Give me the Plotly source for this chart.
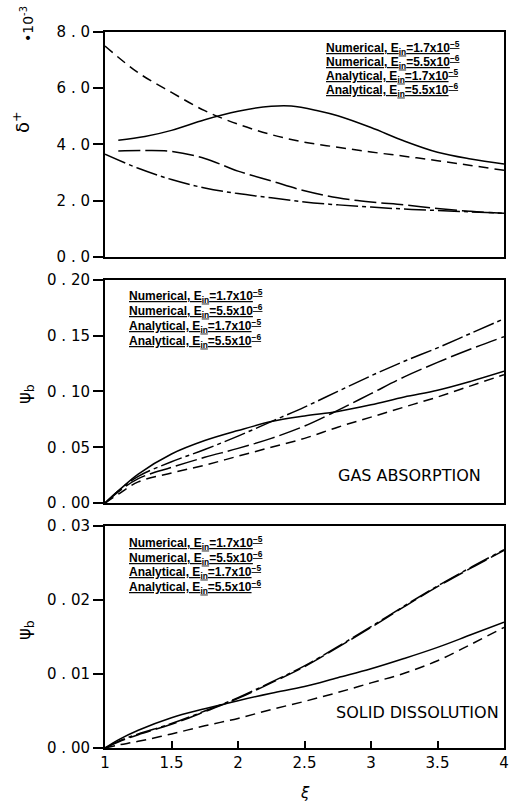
import plotly.graph_objects as go

# ---------------- data ----------------
# Panel 1: delta+ (x 10^-3)
p1_x_num17 = [1.1, 1.3, 1.5, 1.75, 2.0, 2.25, 2.4, 2.6, 2.75, 3.0, 3.25, 3.5, 3.75, 4.0]
p1_num17 = [4.15, 4.28, 4.5, 4.88, 5.18, 5.36, 5.37, 5.2, 5.02, 4.6, 4.12, 3.72, 3.48, 3.3]
p1_x_num55 = [1.0, 1.25, 1.5, 1.75, 2.0, 2.25, 2.5, 2.75, 3.0, 3.25, 3.5, 3.75, 4.0]
p1_num55 = [7.5, 6.55, 5.85, 5.2, 4.72, 4.35, 4.08, 3.9, 3.73, 3.58, 3.42, 3.25, 3.08]
p1_x_an17 = [1.1, 1.3, 1.5, 1.75, 2.0, 2.25, 2.5, 2.75, 3.0, 3.25, 3.5, 3.75, 4.0]
p1_an17 = [3.77, 3.78, 3.75, 3.5, 3.05, 2.7, 2.35, 2.1, 1.95, 1.85, 1.72, 1.62, 1.55]
p1_x_an55 = [1.0, 1.25, 1.5, 1.75, 2.0, 2.25, 2.5, 2.75, 3.0, 3.25, 3.5, 3.75, 4.0]
p1_an55 = [3.65, 3.15, 2.75, 2.45, 2.25, 2.1, 1.95, 1.85, 1.77, 1.7, 1.65, 1.6, 1.55]

# Panel 2: psi_b, gas absorption
p2_x = [1.0, 1.1, 1.25, 1.5, 1.75, 2.0, 2.25, 2.5, 2.75, 3.0, 3.25, 3.5, 3.75, 4.0]
p2_num17 = [0.0, 0.011, 0.026, 0.044, 0.056, 0.065, 0.073, 0.078, 0.082, 0.088, 0.095, 0.101, 0.109, 0.118]
p2_num55 = [0.0, 0.008, 0.019, 0.027, 0.034, 0.042, 0.05, 0.058, 0.068, 0.077, 0.086, 0.095, 0.105, 0.115]
p2_an17 = [0.0, 0.01, 0.022, 0.032, 0.041, 0.049, 0.058, 0.069, 0.083, 0.098, 0.113, 0.126, 0.138, 0.149]
p2_an55 = [0.0, 0.011, 0.024, 0.037, 0.048, 0.06, 0.073, 0.086, 0.1, 0.114, 0.127, 0.139, 0.152, 0.165]

# Panel 3: psi_b, solid dissolution
p3_x = [1.0, 1.1, 1.25, 1.5, 1.75, 2.0, 2.25, 2.5, 2.75, 3.0, 3.25, 3.5, 3.75, 4.0]
p3_num17 = [0.0, 0.0011, 0.0024, 0.0041, 0.0053, 0.0064, 0.0074, 0.0083, 0.0095, 0.0107, 0.0121, 0.0136, 0.0153, 0.017]
p3_num55 = [0.0, 0.0004, 0.0009, 0.0019, 0.003, 0.004, 0.0052, 0.0063, 0.0075, 0.0088, 0.0101, 0.0118, 0.014, 0.0163]
p3_an17 = [0.0, 0.0008, 0.0018, 0.0032, 0.0049, 0.0067, 0.0088, 0.011, 0.0136, 0.0163, 0.0191, 0.0218, 0.0243, 0.0267]
p3_an55 = [0.0, 0.0009, 0.0019, 0.0033, 0.0050, 0.0068, 0.0089, 0.0111, 0.0137, 0.0164, 0.0192, 0.0219, 0.0244, 0.0268]

series_names = ["Numerical, E<sub>in</sub>=1.7x10<sup>−5</sup>",
                "Numerical, E<sub>in</sub>=5.5x10<sup>−6</sup>",
                "Analytical, E<sub>in</sub>=1.7x10<sup>−5</sup>",
                "Analytical, E<sub>in</sub>=5.5x10<sup>−6</sup>"]

x_ticks = [1, 1.5, 2, 2.5, 3, 3.5, 4]
x_ticktext = ["1", "1.5", "2", "2.5", "3", "3.5", "4"]
p1_ticks = [0, 2, 4, 6, 8]
p1_ticktext = ["0 . 0", "2 . 0", "4 . 0", "6 . 0", "8 . 0"]
p2_ticks = [0, 0.05, 0.10, 0.15, 0.20]
p2_ticktext = ["0 . 00", "0 . 05", "0 . 10", "0 . 15", "0 . 20"]
p3_ticks = [0, 0.01, 0.02, 0.03]
p3_ticktext = ["0 . 00", "0 . 01", "0 . 02", "0 . 03"]

# ---------------- figure ----------------
dashes = ["solid", "10px,6px", "22px,5px", "22px,4px,4px,4px"]
fig = go.Figure()

panels = [
    ("x", "y", [(p1_x_num17, p1_num17), (p1_x_num55, p1_num55), (p1_x_an17, p1_an17), (p1_x_an55, p1_an55)]),
    ("x2", "y2", [(p2_x, p2_num17), (p2_x, p2_num55), (p2_x, p2_an17), (p2_x, p2_an55)]),
    ("x3", "y3", [(p3_x, p3_num17), (p3_x, p3_num55), (p3_x, p3_an17), (p3_x, p3_an55)]),
]
for xa, ya, series in panels:
    for i, (xs, ys) in enumerate(series):
        fig.add_trace(go.Scatter(x=xs, y=ys, xaxis=xa, yaxis=ya, mode="lines",
                                 line=dict(color="black", width=1.5, dash=dashes[i], shape="spline"),
                                 name=series_names[i], showlegend=False))

tickfont = dict(family="DejaVu Sans", size=15, color="black")
common_x = dict(range=[1, 4], showline=True, mirror=True, linecolor="black", linewidth=2,
                showgrid=False, zeroline=False, tickvals=x_ticks, ticktext=x_ticktext)
common_y = dict(showline=True, mirror=True, linecolor="black", linewidth=2, showgrid=False,
                zeroline=False, ticks="outside", ticklen=10, tickwidth=1.5, tickcolor="black",
                tickfont=tickfont)

fig.update_layout(
    width=512, height=808,
    margin=dict(l=105, r=3, t=32, b=60),
    paper_bgcolor="white", plot_bgcolor="white",
    showlegend=False,
    xaxis=dict(**common_x, anchor="y", showticklabels=False, ticks=""),
    xaxis2=dict(**common_x, anchor="y2", showticklabels=False, ticks=""),
    xaxis3=dict(**common_x, anchor="y3", ticks="inside", ticklen=7, tickwidth=1.5,
                tickcolor="black", tickfont=dict(family="DejaVu Sans", size=15, color="black")),
    yaxis=dict(**common_y, domain=[0.686, 1.0], range=[0, 8], tickvals=p1_ticks, ticktext=p1_ticktext, anchor="x"),
    yaxis2=dict(**common_y, domain=[0.342, 0.654], range=[0, 0.2], tickvals=p2_ticks, ticktext=p2_ticktext, anchor="x2"),
    yaxis3=dict(**common_y, domain=[0.0, 0.310], range=[0, 0.03], tickvals=p3_ticks, ticktext=p3_ticktext, anchor="x3"),
)

ann = []
legfont = dict(family="Liberation Sans", size=12, color="black")
def legend(xpix, ytop_pix, spacing):
    for i, nm in enumerate(series_names):
        ann.append(dict(text="<b><u>" + nm + "</u></b>", xref="paper", yref="paper",
                        x=(xpix - 105) / 404, y=(748 - (ytop_pix + i * spacing)) / 716,
                        xanchor="left", yanchor="middle", showarrow=False, font=legfont))
legend(327, 48, 14)
legend(127, 296, 15)
legend(127, 543, 14.5)

ann.append(dict(text="GAS ABSORPTION", xref="paper", yref="paper", x=(488 - 105) / 404, y=(748 - 476) / 716,
                xanchor="right", yanchor="middle", showarrow=False,
                font=dict(family="DejaVu Sans", size=16, color="black")))
ann.append(dict(text="SOLID DISSOLUTION", xref="paper", yref="paper", x=(506 - 105) / 404, y=(748 - 712) / 716,
                xanchor="right", yanchor="middle", showarrow=False,
                font=dict(family="DejaVu Sans", size=16, color="black")))

titlefont = dict(family="DejaVu Sans", size=18, color="black")
ann.append(dict(text="δ<sup>+</sup>", xref="paper", yref="paper", x=(20 - 105) / 404, y=(748 - 122) / 716,
                xanchor="center", yanchor="middle", textangle=-90, showarrow=False, font=titlefont))
ann.append(dict(text="•10<sup>-3</sup>", xref="paper", yref="paper", x=(26 - 105) / 404, y=(748 - 24) / 716,
                xanchor="center", yanchor="middle", textangle=-90, showarrow=False,
                font=dict(family="DejaVu Sans", size=14, color="black")))
ann.append(dict(text="ψ<sub>b</sub>", xref="paper", yref="paper", x=(24 - 105) / 404, y=(748 - 394) / 716,
                xanchor="center", yanchor="middle", textangle=-90, showarrow=False, font=titlefont))
ann.append(dict(text="ψ<sub>b</sub>", xref="paper", yref="paper", x=(24 - 105) / 404, y=(748 - 630) / 716,
                xanchor="center", yanchor="middle", textangle=-90, showarrow=False, font=titlefont))
ann.append(dict(text="<i>ξ</i>", xref="paper", yref="paper", x=(307 - 105) / 404, y=(748 - 793) / 716,
                xanchor="center", yanchor="middle", showarrow=False, font=dict(family="DejaVu Sans", size=15, color="black")))
fig.update_layout(annotations=ann)

fig.write_html("out.html")
